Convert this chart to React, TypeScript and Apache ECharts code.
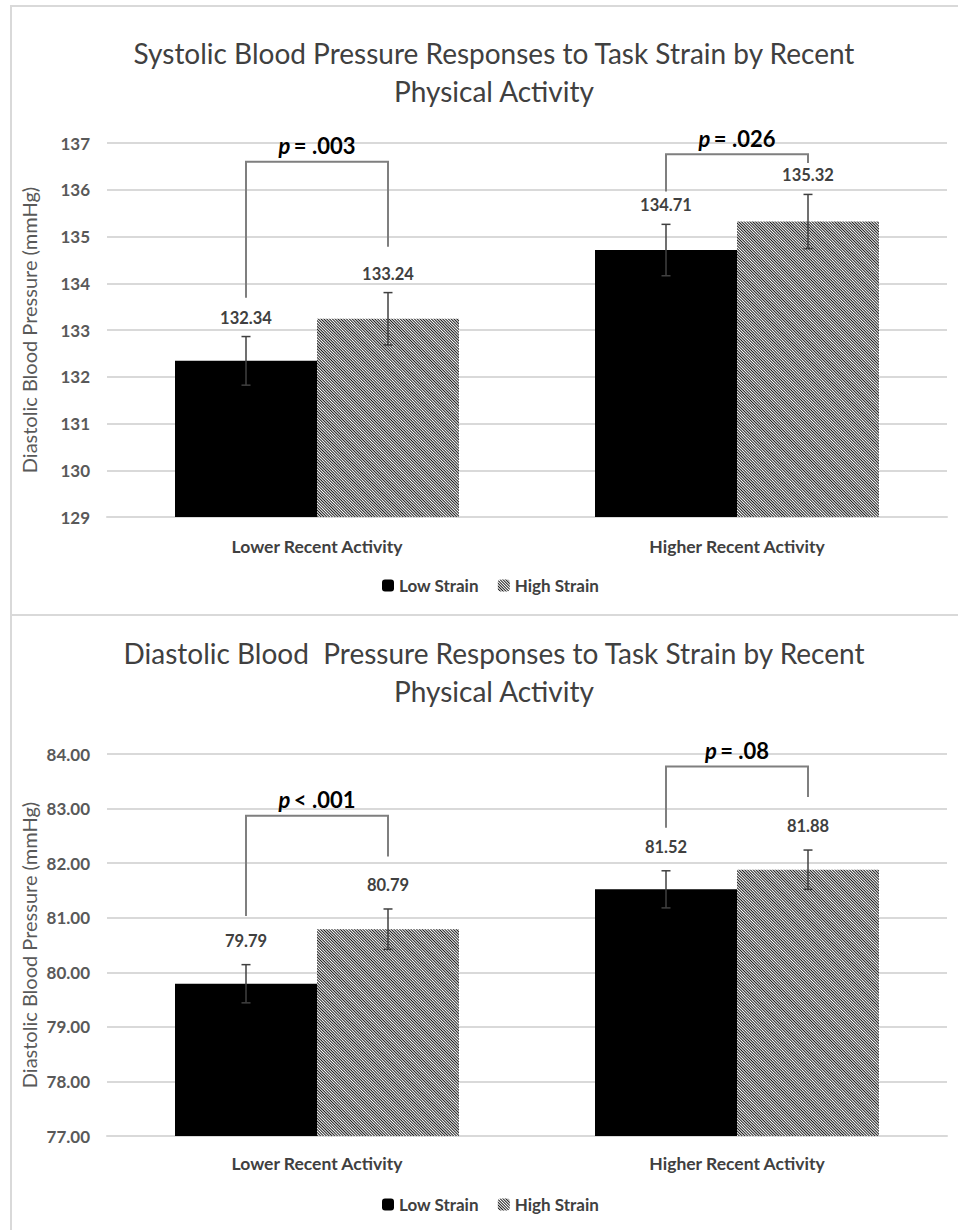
import React, { useEffect, useRef } from "react";
import * as echarts from "echarts";

// ---------- data ----------
const categories = ["Lower Recent Activity", "Higher Recent Activity"];
const seriesNames = ["Low Strain", "High Strain"];

// Systolic (top chart)
const sbpLow = [132.34, 134.71];
const sbpHigh = [133.24, 135.32];
const sbpLowErr = [0.52, 0.55];
const sbpHighErr = [0.56, 0.58];
const sbpAxis = { min: 129, max: 137, interval: 1 };
const sbpPText = ["= .003", "= .026"];
const sbpBracketTop = [136.6, 136.76];
const sbpBracketLeftEnd = [133.69, 135.96];
const sbpBracketRightEnd = [134.78, 136.57];

// Diastolic (bottom chart)
const dbpLow = [79.79, 81.52];
const dbpHigh = [80.79, 81.88];
const dbpLowErr = [0.35, 0.34];
const dbpHighErr = [0.37, 0.36];
const dbpAxis = { min: 77, max: 84, interval: 1 };
const dbpPText = ["< .001", "= .08"];
const dbpBracketTop = [82.87, 83.77];
const dbpBracketLeftEnd = [81.03, 82.65];
const dbpBracketRightEnd = [82.12, 83.21];

const titles = [
  ["Systolic Blood Pressure Responses to Task Strain by Recent", "Physical Activity"],
  ["Diastolic Blood  Pressure Responses to Task Strain by Recent", "Physical Activity"],
];
const yAxisName = "Diastolic Blood Pressure (mmHg)";

// ---------- styles ----------
const FONT = "Lato, 'Open Sans', 'DejaVu Sans', sans-serif";
const BAR_W = 142;
const TEXT_DARK = "#404040";
const GRID_COLOR = "#d9d9d9";

const hatch = {
  symbol: "rect",
  symbolSize: 1,
  dashArrayX: [1, 0],
  dashArrayY: [1, 1],
  rotation: Math.PI / 4,
  color: "#1a1a1a",
};

function errorRenderer(offset: number, labelGap: number) {
  return (params: any, api: any) => {
    const cat = api.value(0);
    const v = api.value(1);
    const e = api.value(2);
    const c = api.coord([cat, v]);
    const x = c[0] + offset;
    const yT = api.coord([cat, v + e])[1];
    const yB = api.coord([cat, v - e])[1];
    const cap = 4.5;
    const ls = { stroke: "#404040", lineWidth: 1.5 };
    return {
      type: "group",
      children: [
        { type: "line", shape: { x1: x, y1: yT, x2: x, y2: yB }, style: ls },
        { type: "line", shape: { x1: x - cap, y1: yT, x2: x + cap, y2: yT }, style: ls },
        { type: "line", shape: { x1: x - cap, y1: yB, x2: x + cap, y2: yB }, style: ls },
        {
          type: "text",
          x,
          y: yT - labelGap,
          style: {
            text: v.toFixed(2),
            align: "center",
            verticalAlign: "middle",
            textAlign: "center",
            textVerticalAlign: "middle",
            font: `bold 16.5px ${FONT}`,
            fill: TEXT_DARK,
          },
        },
      ],
    };
  };
}

function bracketRenderer(pTexts: string[]) {
  return (params: any, api: any) => {
    const cat = api.value(0);
    const top = api.coord([cat, api.value(1)]);
    const yL = api.coord([cat, api.value(2)])[1];
    const yR = api.coord([cat, api.value(3)])[1];
    const xL = top[0] - BAR_W / 2;
    const xR = top[0] + BAR_W / 2;
    return {
      type: "group",
      children: [
        {
          type: "polyline",
          shape: { points: [[xL, yL], [xL, top[1]], [xR, top[1]], [xR, yR]] },
          style: { stroke: "#7f7f7f", lineWidth: 2, fill: "none" },
        },
        {
          type: "text",
          x: top[0],
          y: top[1] - 16,
          style: {
            text: `{i|p} {n|${pTexts[params.dataIndex]}}`,
            align: "center",
            verticalAlign: "middle",
            textAlign: "center",
            textVerticalAlign: "middle",
            rich: {
              i: { fontStyle: "italic", fontWeight: "bold", fontSize: 22, fontFamily: FONT, fill: "#000" },
              n: { fontWeight: "bold", fontSize: 22, fontFamily: FONT, fill: "#000" },
            },
          },
        },
      ],
    };
  };
}

function chartSeries(
  idx: number,
  low: number[],
  high: number[],
  lowErr: number[],
  highErr: number[],
  bTop: number[],
  bL: number[],
  bR: number[],
  pTexts: string[],
  labelGap: number
) {
  return [
    {
      name: seriesNames[0],
      type: "bar",
      xAxisIndex: idx,
      yAxisIndex: idx,
      data: low,
      barWidth: BAR_W,
      barGap: "0%",
      itemStyle: { color: "#000000" },
    },
    {
      name: seriesNames[1],
      type: "bar",
      xAxisIndex: idx,
      yAxisIndex: idx,
      data: high,
      barWidth: BAR_W,
      barGap: "0%",
      itemStyle: { color: "#ffffff", decal: hatch },
    },
    {
      type: "custom",
      xAxisIndex: idx,
      yAxisIndex: idx,
      z: 10,
      data: categories.map((_, i) => [i, low[i], lowErr[i]]),
      encode: { x: 0, y: 1 },
      renderItem: errorRenderer(-BAR_W / 2, labelGap),
    },
    {
      type: "custom",
      xAxisIndex: idx,
      yAxisIndex: idx,
      z: 10,
      data: categories.map((_, i) => [i, high[i], highErr[i]]),
      encode: { x: 0, y: 1 },
      renderItem: errorRenderer(BAR_W / 2, labelGap),
    },
    {
      type: "custom",
      xAxisIndex: idx,
      yAxisIndex: idx,
      z: 11,
      data: categories.map((_, i) => [i, bTop[i], bL[i], bR[i]]),
      encode: { x: 0, y: 1 },
      renderItem: bracketRenderer(pTexts),
    },
  ];
}

function xAxis(idx: number, margin: number) {
  return {
    type: "category",
    gridIndex: idx,
    data: categories,
    axisTick: { show: false },
    axisLine: { lineStyle: { color: GRID_COLOR, width: 2 } },
    axisLabel: { color: TEXT_DARK, fontFamily: FONT, fontSize: 17.5, fontWeight: "bold", margin },
  };
}

function yAxis(idx: number, ax: { min: number; max: number; interval: number }, decimals: number) {
  return {
    type: "value",
    gridIndex: idx,
    min: ax.min,
    max: ax.max,
    interval: ax.interval,
    axisLine: { show: false },
    axisTick: { show: false },
    splitLine: { lineStyle: { color: GRID_COLOR, width: 2 } },
    axisLabel: {
      color: "#595959",
      fontFamily: FONT,
      fontSize: 17,
      fontWeight: "bold",
      margin: 17,
      formatter: (v: number) => v.toFixed(decimals),
    },
  };
}

export default function App() {
  const ref = useRef<HTMLDivElement>(null);
  useEffect(() => {
    if (!ref.current) return;
    const chart = echarts.init(ref.current, null, { renderer: "svg" });
    const titleText = (t: string, y: number) => ({
      type: "text",
      x: 494,
      y,
      style: {
        text: t,
        font: `28px ${FONT}`,
        fill: TEXT_DARK,
        textAlign: "center",
        textVerticalAlign: "middle",
        align: "center",
        verticalAlign: "middle",
      },
    });
    const axisName = (y: number) => ({
      type: "text",
      x: 29,
      y,
      rotation: Math.PI / 2,
      style: {
        text: yAxisName,
        font: `20px ${FONT}`,
        fill: "#595959",
        textAlign: "center",
        textVerticalAlign: "middle",
        align: "center",
        verticalAlign: "middle",
      },
    });
    const legend = (top: number) => ({
      data: seriesNames,
      left: 382,
      top,
      padding: 0,
      itemWidth: 12,
      itemHeight: 12,
      itemGap: 19,
      selectedMode: false,
      textStyle: { color: TEXT_DARK, fontFamily: FONT, fontSize: 17, fontWeight: "bold" },
    });
    chart.setOption({
      animation: false,
      backgroundColor: "#ffffff",
      grid: [
        { left: 107, width: 840, top: 143, height: 374 },
        { left: 107, width: 840, top: 754, height: 382 },
      ],
      xAxis: [xAxis(0, 20), xAxis(1, 18)],
      yAxis: [yAxis(0, sbpAxis, 0), yAxis(1, dbpAxis, 2)],
      legend: [legend(577), legend(1196)],
      graphic: [
        { type: "rect", shape: { x: 11, y: 6, width: 1000, height: 609 }, style: { fill: "none", stroke: GRID_COLOR, lineWidth: 2 } },
        { type: "rect", shape: { x: 11, y: 615, width: 1000, height: 700 }, style: { fill: "none", stroke: GRID_COLOR, lineWidth: 2 } },
        titleText(titles[0][0], 53),
        titleText(titles[0][1], 91),
        titleText(titles[1][0], 653),
        titleText(titles[1][1], 691),
        axisName(330),
        axisName(945),
      ],
      series: [
        ...chartSeries(0, sbpLow, sbpHigh, sbpLowErr, sbpHighErr, sbpBracketTop, sbpBracketLeftEnd, sbpBracketRightEnd, sbpPText, 19),
        ...chartSeries(1, dbpLow, dbpHigh, dbpLowErr, dbpHighErr, dbpBracketTop, dbpBracketLeftEnd, dbpBracketRightEnd, dbpPText, 24),
      ],
    });
    return () => chart.dispose();
  }, []);
  return (
    <div
      ref={ref}
      style={{ position: "absolute", left: 0, top: 0, width: 958, height: 1230 }}
    />
  );
}
